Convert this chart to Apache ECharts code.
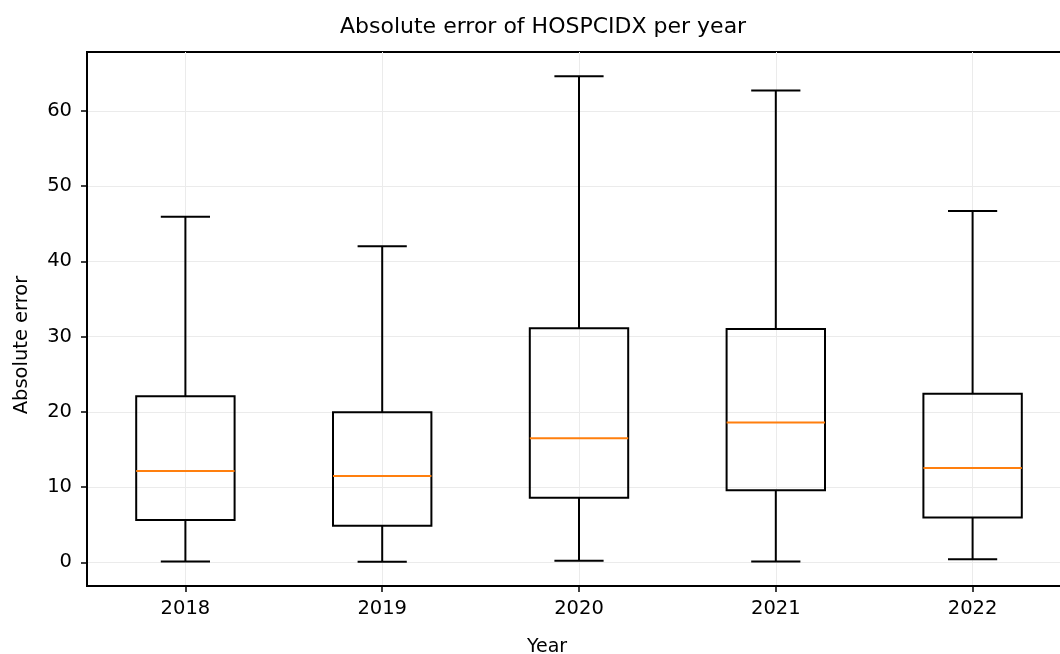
<!DOCTYPE html>
<html>
<head>
<meta charset="utf-8">
<script src="https://cdn.jsdelivr.net/npm/echarts@6/dist/echarts.min.js"></script>
<style>html,body{margin:0;padding:0;background:#fff;}#c{width:1060px;height:654px;}</style>
</head>
<body>
<div id="c"></div>
<script>
const years = ['2018', '2019', '2020', '2021', '2022'];
const whiskerLow = [0.13, 0.09, 0.23, 0.13, 0.40];
const q1 = [5.64, 4.88, 8.60, 9.58, 5.98];
const median = [12.15, 11.49, 16.50, 18.58, 12.55];
const q3 = [22.07, 19.95, 31.10, 31.00, 22.40];
const whiskerHigh = [45.95, 42.00, 64.60, 62.70, 46.70];
const yTicks = [0, 10, 20, 30, 40, 50, 60];

const FONT = 'DejaVu Sans';
const chart = echarts.init(document.getElementById('c'), null, {renderer: 'canvas'});
const boxData = years.map((y, i) => [i, whiskerLow[i], q1[i], median[i], q3[i], whiskerHigh[i]]);

chart.setOption({
  animation: false,
  backgroundColor: '#fff',
  title: {
    text: 'Absolute error of HOSPCIDX per year',
    left: 335, top: 11,
    textStyle: {fontFamily: FONT, fontSize: 22, fontWeight: 'normal', color: '#000'}
  },
  grid: {left: 87, top: 52, right: -11, bottom: 68, outerBoundsMode: 'none', containLabel: false, show: true, borderColor: '#000', borderWidth: 2, backgroundColor: 'transparent'},
  xAxis: {
    type: 'category',
    data: years,
    boundaryGap: true,
    name: 'Year',
    nameLocation: 'middle',
    nameGap: 52,
    nameTextStyle: {fontFamily: FONT, fontSize: 19, color: '#000', padding: [0, 64, 0, 0]},
    axisLine: {show: true, onZero: false, lineStyle: {color: '#000', width: 2}},
    axisTick: {show: true, alignWithLabel: true, length: 6, lineStyle: {color: '#000', width: 1.5}},
    axisLabel: {fontFamily: FONT, fontSize: 19.5, color: '#000', margin: 13},
    splitLine: {show: true, alignWithLabel: true, lineStyle: {color: '#ebebeb', width: 1}}
  },
  yAxis: {
    type: 'value',
    min: -3.14, max: 67.83,
    name: 'Absolute error',
    nameLocation: 'middle',
    nameGap: 55,
    nameTextStyle: {fontFamily: FONT, fontSize: 19.5, color: '#000', padding: [0, 52, 0, 0]},
    axisLine: {show: true, onZero: false, lineStyle: {color: '#000', width: 2}},
    axisTick: {show: true, length: 6, customValues: yTicks, lineStyle: {color: '#000', width: 1.5}},
    axisLabel: {fontFamily: FONT, fontSize: 19.5, color: '#000', margin: 15, customValues: yTicks},
    splitLine: {show: true, lineStyle: {color: '#ebebeb', width: 1}}
  },
  series: [{
    type: 'custom',
    data: boxData,
    encode: {x: 0, y: [1, 2, 3, 4, 5]},
    clip: false,
    renderItem: function (params, api) {
      const i = api.value(0);
      const lo = api.coord([i, api.value(1)]);
      const b1 = api.coord([i, api.value(2)]);
      const md = api.coord([i, api.value(3)]);
      const b3 = api.coord([i, api.value(4)]);
      const hi = api.coord([i, api.value(5)]);
      const band = api.size([1, 0])[0];
      const hw = band * 0.25, cw = band * 0.125;
      const cx = lo[0];
      const ls = {stroke: '#000', lineWidth: 2, fill: null};
      return {
        type: 'group',
        children: [
          {type: 'line', shape: {x1: cx, y1: lo[1], x2: cx, y2: b1[1]}, style: ls},
          {type: 'line', shape: {x1: cx, y1: b3[1], x2: cx, y2: hi[1]}, style: ls},
          {type: 'line', shape: {x1: cx - cw, y1: lo[1], x2: cx + cw, y2: lo[1]}, style: ls},
          {type: 'line', shape: {x1: cx - cw, y1: hi[1], x2: cx + cw, y2: hi[1]}, style: ls},
          {type: 'rect', shape: {x: cx - hw, y: b3[1], width: hw * 2, height: b1[1] - b3[1]}, style: {stroke: '#000', lineWidth: 2, fill: 'none'}},
          {type: 'line', shape: {x1: cx - hw, y1: md[1], x2: cx + hw, y2: md[1]}, style: {stroke: '#ff7f0e', lineWidth: 2}}
        ]
      };
    }
  }]
});
</script>
</body>
</html>
